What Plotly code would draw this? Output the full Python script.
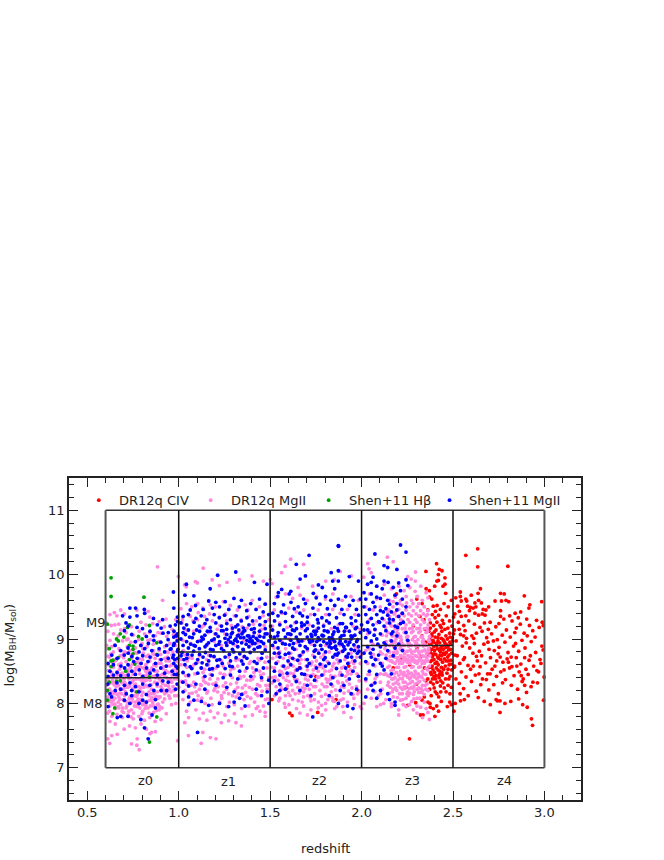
import plotly.graph_objects as go

# values, as alternating pairs: redshift*1000, logM*100
civ_raw = [
2635,1040,2570,1030,2635,1012,2800,1013,2410,1017,2425,1008,2440,1006,2420,1000,2456,995,2420,991,2456,985,2445,982,2400,982,
2650,978,2540,973,2637,971,2600,968,2760,971,2780,970,2890,967,2460,971,2515,964,2540,966,2570,962,2545,959,2575,959,2640,960,
2655,956,2620,956,2730,959,2765,959,2790,960,2805,958,2985,958,2920,953,2915,948,2695,950,2525,951,2580,951,2595,949,2610,948,
2625,950,2665,946,2680,945,2760,944,2870,942,2840,940,2535,943,2590,944,2620,940,2640,937,2660,939,2675,937,2545,935,2570,936,
2510,939,2760,935,2810,936,2778,931,2823,928,2857,933,2903,931,2957,929,2988,926,2703,926,2529,926,2559,921,2586,928,2617,923,
2648,918,2672,925,2693,915,2734,919,2751,924,2792,914,2846,917,2868,923,2889,909,2918,921,2936,913,2971,918,2994,921,2508,914,
2541,907,2566,913,2603,905,2628,909,2659,912,2684,902,2711,908,2742,899,2769,906,2813,903,2838,910,2877,898,2906,905,2928,896,
2949,903,2986,889,2517,897,2551,889,2574,901,2591,886,2617,893,2644,881,2669,892,2697,884,2721,897,2752,887,2784,895,2801,879,
2831,889,2859,881,2894,886,2923,874,2952,879,2976,868,2993,883,2523,874,2537,862,2563,871,2582,859,2609,878,2633,866,2656,874,
2678,863,2705,871,2729,858,2747,877,2773,864,2796,869,2822,857,2846,871,2871,861,2899,853,2916,867,2941,858,2968,849,2981,862,
2509,858,2546,849,2571,841,2596,853,2622,844,2648,857,2661,838,2689,846,2714,853,2738,842,2761,849,2787,837,2809,855,2834,843,
2862,849,2884,838,2911,845,2937,833,2959,851,2998,841,2534,831,2558,823,2601,834,2627,819,2652,829,2682,837,2696,821,2723,829,
2748,815,2771,832,2819,828,2853,822,2878,834,2902,817,2927,826,2962,832,2539,815,2583,812,2638,809,2671,803,2704,798,2736,806,
2757,804,2743,804,2784,800,2816,803,2859,807,2906,794,2881,798,2757,786,2929,776,2935,766,2995,805,2505,788,2541,804,2562,806,
2503,908,2512,875,2507,856,2516,838,2512,800,2534,915,2558,905,2572,894,2613,901,2628,873,2691,895,2726,882,2758,872,2803,864,
2842,893,2873,843,2892,871,2557,868,2611,858,2642,846,2703,846,2739,866,2779,852,2818,872,2849,858,2892,828,
# dense part next to the MgII limit
2371,975,2384,962,2392,951,2404,943,2413,952,2431,946,2451,955,2474,950,2491,960,2362,945,2387,938,2402,933,2421,937,2442,929,
2463,936,2481,928,2503,934,2376,925,2394,921,2412,926,2435,918,2448,924,2472,917,2494,920,2368,912,2385,908,2407,914,2423,907,
2439,912,2461,905,2482,909,2496,902,2373,902,2391,898,2403,903,2418,897,2436,901,2452,896,2469,900,2483,895,2497,897,2379,892,
2394,895,2411,890,2427,894,2441,889,2457,893,2473,888,2486,892,2371,885,2383,884,2399,882,2414,885,2432,880,2447,884,2463,879,
2476,883,2492,878,2367,875,2388,873,2406,876,2421,870,2438,874,2453,869,2471,872,2488,867,2377,865,2402,862,2419,860,2443,864,
2458,858,2479,860,2369,856,2391,852,2409,855,2428,850,2449,853,2467,847,2493,852,2382,845,2397,842,2424,840,2441,844,2362,838,
2459,838,2484,842,2392,830,2413,833,2431,827,2452,824,2473,828,2491,825,2372,822,2381,812,2403,818,2422,810,2374,800,2376,794,
2392,792,2411,796,2436,803,2469,795,2482,802,2491,798,2421,788,2322,782,2336,782,2401,780,2251,797,2296,801,2331,805,2343,810,
2363,802,2262,745,2352,1005,2412,990,2353,978,2372,965,2331,955,2302,962,2319,935,2283,920,2331,905,2304,885,2322,872,2344,855,
2352,835,2301,830,2263,860,2222,870,2173,855,2191,970,2243,825,2341,930,2347,915,2351,895,2383,877,2396,868,2416,872,2437,856,
2455,876,2475,866,2395,888,2427,882,2466,891,2385,905,2417,902,2446,899,2372,892,2386,858,2404,838,2378,848,2426,845,2376,917,
2398,911,2429,921,2456,915,2484,903,2378,897,2409,893,2433,886,2461,887,2488,884,2375,880,2396,877,2429,875,2448,878,2478,875,
2385,867,2411,864,2433,868,2463,866,2489,861,2381,856,2399,848,2418,852,2439,848,2473,853,2388,838,2408,843,2433,835,2477,838,
2397,824,2444,832,2412,815,2462,818,2378,833,2433,818,2483,815,
# stray ones under the MgII cloud
1607,785,1620,781,1760,786,1860,806,1510,806,1750,842,1590,823,1985,819,1930,858,1660,855,
]

mgii_raw = [
# z0
884,1012,998,997,683,945,648,941,624,938,662,936,703,939,771,945,833,943,842,934,912,960,931,931,603,925,631,921,672,923,704,916,
742,919,793,926,821,922,858,924,893,927,922,919,964,915,983,930,612,912,644,908,683,914,713,910,751,906,784,912,813,908,841,910,
872,905,902,909,934,904,971,907,993,900,624,898,651,922,693,897,723,900,762,895,793,890,832,898,861,892,891,896,923,888,952,893,
983,890,613,885,642,880,673,885,703,880,733,882,771,878,804,885,834,875,862,882,901,876,934,880,963,875,992,880,622,872,654,868,
681,874,712,865,742,870,773,864,803,868,842,866,871,870,903,862,931,866,963,860,994,865,615,860,643,856,672,860,704,855,733,858,
762,852,792,856,821,850,853,855,883,850,912,854,942,848,973,852,632,848,664,844,691,847,722,842,751,845,783,838,812,843,843,836,
874,840,903,835,934,840,962,833,992,838,614,836,642,832,671,828,704,833,732,827,764,830,793,824,823,828,851,822,882,827,913,822,
944,827,973,820,1000,825,622,822,654,818,683,822,713,815,743,820,773,813,804,817,834,812,862,815,893,810,924,815,952,808,994,812,
613,810,642,805,673,810,704,804,732,808,762,802,793,806,821,800,853,804,883,798,913,802,961,798,984,800,624,796,653,792,682,798,
713,793,741,790,771,795,803,788,832,793,862,786,893,790,932,784,612,785,634,780,662,783,692,778,723,782,751,776,782,780,813,774,
842,778,871,772,903,775,624,772,653,768,702,760,731,765,763,762,794,768,823,760,851,755,843,753,872,756,634,750,664,752,623,738,
742,737,773,745,784,728,771,735,994,742,612,745,993,850,972,870,951,858,924,870,893,882,864,860,833,845,803,833,764,818,722,825,
681,836,643,842,663,814,704,812,743,802,782,820,823,836,883,832,921,844,964,844,903,820,842,805,803,798,753,785,691,788,863,796,
723,852,684,862,628,842,637,864,658,826,695,806,716,796,736,840,757,828,778,857,798,812,816,792,848,815,869,833,887,808,908,793,
928,828,946,812,969,826,988,841,606,818,618,831,642,815,669,802,689,832,709,818,729,807,749,823,769,838,789,802,809,825,829,843,
849,829,868,817,888,799,912,831,936,818,956,835,976,838,632,802,651,808,673,793,696,822,718,842,737,856,755,812,775,797,796,836,
818,851,837,818,856,842,876,858,896,843,917,857,938,872,959,849,981,858,613,873,634,888,657,867,678,882,699,871,719,888,741,874,
763,886,784,869,806,878,827,888,848,872,607,828,626,806,647,829,668,795,687,815,708,825,727,788,746,807,767,811,787,793,807,836,
826,803,845,796,866,808,884,818,903,826,923,807,941,838,958,818,978,812,621,788,641,799,676,806,698,786,718,802,739,779,758,796,
778,807,799,784,819,797,838,785,858,801,878,789,898,810,616,851,638,836,662,849,682,846,701,838,724,847,745,833,766,855,787,846,
808,855,827,848,846,851,869,850,889,862,909,845,933,858,955,838,979,845,997,857,606,890,629,877,650,891,669,905,697,876,716,899,
738,895,759,879,780,899,799,893,823,873,844,899,865,876,887,910,618,803,633,818,652,799,677,816,694,793,712,829,735,811,752,836,
772,803,791,819,811,801,832,826,852,809,877,811,896,795,918,818,949,822,628,832,659,838,679,823,706,843,729,838,758,848,783,826,
811,834,836,851,871,843,893,838,929,851,948,866,968,880,647,865,676,853,708,879,746,861,781,863,820,860,858,878,897,868,942,879,
# z1
1012,947,1041,981,1032,984,1102,987,1134,1010,1183,992,1091,989,1222,983,1264,988,1332,992,1401,998,1463,990,1501,992,1043,955,
1071,950,1104,955,1132,948,1173,953,1201,950,1244,958,1283,952,1321,945,1364,953,1402,960,1441,950,1473,955,1021,930,1063,935,
1102,930,1141,935,1184,928,1223,934,1262,928,1304,936,1341,930,1383,935,1424,928,1462,936,1493,930,1034,915,1082,912,1124,918,
1163,910,1211,915,1252,908,1293,915,1333,910,1374,917,1413,910,1452,915,1494,908,1023,898,1064,893,1112,898,1153,890,1194,896,
1233,890,1274,895,1312,890,1353,897,1394,890,1434,894,1473,888,1034,875,1073,870,1114,874,1153,868,1192,872,1234,866,1273,872,
1312,867,1354,872,1393,865,1434,870,1472,864,1013,860,1044,856,1083,860,1124,855,1163,860,1204,855,1243,858,1284,852,1323,858,
1364,850,1404,855,1443,850,1483,855,1022,848,1054,842,1093,846,1134,840,1173,845,1214,838,1253,844,1293,840,1334,842,1373,836,
1413,842,1454,836,1493,840,1014,834,1043,830,1082,833,1123,828,1164,830,1203,832,1243,827,1284,830,1323,825,1364,828,1403,822,
1444,827,1484,822,1034,820,1074,816,1113,822,1154,816,1193,820,1234,812,1273,815,1314,810,1353,815,1394,808,1433,812,1474,806,
1023,806,1064,802,1103,805,1144,800,1183,798,1224,802,1263,795,1304,798,1344,792,1383,796,1424,792,1463,796,1043,788,1094,790,
1134,785,1173,788,1214,785,1253,782,1304,784,1363,780,1403,782,1444,788,1473,786,1054,778,1113,776,1154,774,1194,778,1233,770,
1273,773,1053,750,1204,745,1343,765,1313,770,1132,755,1123,738,1173,747,1033,770,1433,795,1473,780,1026,882,1057,871,1088,846,
1119,829,1142,853,1171,838,1198,823,1227,847,1256,832,1281,846,1309,821,1337,839,1366,817,1393,836,1421,815,1448,844,1477,828,
1016,868,1038,843,1067,828,1095,818,1126,808,1148,832,1176,808,1216,826,1248,817,1277,802,1326,815,1357,806,1386,825,1415,802,
1456,819,1486,807,1018,925,1049,913,1078,928,1107,941,1137,921,1168,939,1196,908,1226,921,1257,939,1288,921,1317,905,1347,919,
1378,945,1408,923,1437,906,1466,921,1036,835,1058,815,1087,826,1106,812,1136,835,1158,819,1187,830,1213,818,1236,808,1262,822,
1294,812,1316,832,1348,824,1375,811,1404,838,1431,829,1463,846,1493,828,1047,866,1075,855,1105,864,1133,848,1163,875,1186,852,
1218,858,1247,845,1274,862,1302,854,1329,868,1356,842,1386,862,1411,848,1441,867,1482,872,
# z2
1511,986,1563,1003,1582,1013,1612,1024,1683,1016,1653,980,1732,982,1804,990,1851,992,1883,1005,1944,998,1533,965,1584,970,1623,963,
1664,968,1703,960,1754,966,1802,962,1843,970,1894,960,1942,966,1983,960,1523,945,1564,940,1602,948,1643,942,1684,945,1722,938,
1763,945,1804,938,1842,946,1883,940,1923,946,1964,938,1513,920,1552,925,1593,918,1634,925,1672,917,1713,922,1754,915,1793,922,
1834,916,1873,922,1914,914,1953,920,1992,915,1523,902,1564,896,1603,900,1644,894,1683,898,1724,892,1763,898,1804,890,1843,896,
1884,890,1923,896,1964,888,1522,886,1553,880,1584,885,1613,878,1642,884,1673,876,1704,882,1733,875,1762,882,1793,876,1824,880,
1853,874,1884,880,1913,872,1942,878,1973,872,2000,876,1514,870,1543,865,1572,870,1604,863,1633,868,1662,862,1693,868,1724,860,
1753,866,1784,860,1813,865,1842,858,1873,863,1904,857,1933,863,1962,856,1993,862,1523,855,1552,850,1583,854,1612,847,1643,853,
1672,846,1703,852,1734,845,1763,850,1792,845,1823,850,1854,842,1883,848,1912,842,1943,846,1982,842,1514,840,1543,836,1572,840,
1603,834,1634,838,1662,832,1693,838,1722,830,1753,835,1784,830,1813,833,1842,827,1873,832,1904,825,1933,830,1972,826,1533,826,
1563,822,1594,827,1623,820,1652,825,1683,818,1714,822,1743,815,1772,820,1803,814,1834,818,1863,812,1904,816,1953,814,1992,818,
1524,812,1553,808,1584,812,1623,806,1654,804,1683,810,1723,804,1764,802,1803,800,1843,804,1884,805,1923,802,1962,798,1603,798,
1644,792,1683,796,1723,790,1763,793,1804,790,1853,792,1704,782,1663,785,1784,782,1864,795,1903,786,1942,778,1583,794,1992,795,
2000,792,1537,873,1566,858,1596,843,1626,858,1657,874,1687,829,1716,843,1747,858,1777,872,1806,838,1836,852,1866,868,1896,832,
1926,846,1957,862,1987,835,1511,832,1541,818,1569,846,1601,817,1629,842,1658,816,1691,823,1719,809,1749,826,1781,811,1811,826,
1839,809,1869,834,1899,807,1929,819,1958,808,1975,846,1508,856,1539,877,1576,858,1607,872,1638,851,1669,868,1699,844,1729,864,
1759,841,1789,855,1819,836,1849,862,1879,844,1909,868,1939,852,1969,885,1528,841,1558,827,1587,836,1617,829,1648,837,1676,824,
1708,836,1737,826,1767,841,1797,826,1829,838,1858,821,1889,826,1919,835,1948,824,1979,815,1533,863,1561,849,1598,856,1627,846,
1668,854,1697,858,1736,852,1771,857,1801,850,1832,843,1861,855,1891,855,1921,850,1951,866,1547,804,1578,800,1609,812,1637,815,
1675,802,1706,812,1742,806,1781,797,1816,806,1851,803,1897,795,
# z3
2141,1027,2173,1020,2034,1017,2041,1009,2053,1003,2295,1004,2252,997,2294,990,2271,993,2012,996,2083,982,2124,985,2163,978,2204,982,
2233,975,2264,980,2293,974,2324,982,2353,972,2044,970,2083,962,2124,968,2153,960,2184,965,2213,960,2244,966,2273,960,2304,966,
2332,960,2363,964,2023,950,2064,945,2102,950,2143,942,2172,950,2203,946,2224,952,2243,945,2264,950,2283,944,2304,950,2323,944,
2343,950,2362,944,2043,930,2084,925,2122,930,2153,935,2174,928,2193,935,2214,930,2233,936,2254,930,2273,936,2294,930,2313,936,
2332,930,2353,936,2371,930,2163,920,2184,916,2203,922,2223,916,2243,922,2263,916,2283,922,2303,916,2323,922,2343,916,2364,922,
2033,908,2074,914,2113,906,2144,910,2173,905,2193,910,2214,904,2233,910,2253,904,2273,910,2294,904,2313,910,2333,904,2353,910,
2372,904,2054,895,2093,890,2134,896,2153,890,2174,896,2193,890,2213,896,2234,890,2253,896,2273,890,2293,896,2314,890,2333,896,
2353,890,2372,896,2023,882,2064,876,2103,880,2134,875,2153,880,2173,874,2194,880,2213,874,2233,880,2254,874,2273,880,2293,874,
2313,880,2334,874,2353,880,2373,874,2164,866,2183,862,2204,868,2223,862,2243,868,2263,862,2284,868,2303,862,2323,868,2343,862,
2363,866,2034,862,2073,858,2113,862,2143,856,2173,852,2193,856,2213,850,2233,856,2253,850,2273,856,2293,850,2313,856,2333,850,
2353,854,2043,845,2083,842,2123,845,2153,842,2183,840,2203,844,2223,838,2243,844,2263,838,2283,844,2303,838,2323,842,2343,836,
2023,835,2063,830,2103,833,2143,828,2173,830,2203,830,2233,826,2253,830,2273,825,2293,830,2313,824,2333,828,2033,822,2073,818,
2113,822,2153,816,2193,820,2223,815,2253,818,2283,814,2313,817,2343,814,2363,820,2053,808,2093,812,2133,806,2173,810,2213,805,
2243,808,2273,803,2303,808,2343,802,2013,800,2103,798,2163,795,2203,790,2243,795,2283,790,2353,792,2363,786,2303,796,2203,782,
2303,785,2333,778,2371,775,2167,905,2187,884,2206,903,2226,883,2246,903,2266,883,2286,903,2306,883,2326,903,2346,883,2367,885,
2157,873,2177,888,2197,871,2217,889,2237,871,2257,889,2277,871,2297,889,2317,871,2337,889,2357,871,2152,858,2182,872,2202,856,
2222,873,2242,857,2262,873,2282,857,2302,873,2322,857,2342,873,2362,852,2147,833,2178,846,2198,836,2218,846,2238,833,2258,846,
2278,834,2298,846,2318,834,2338,846,2358,830,2168,818,2188,832,2208,815,2228,833,2248,815,2268,832,2288,818,2308,832,2328,817,
2348,828,2158,922,2178,939,2198,915,2218,939,2238,917,2258,939,2278,917,2298,939,2318,917,2338,939,2358,917,2173,958,2208,955,
2246,956,2281,955,2313,955,2158,898,2188,900,2218,899,2248,899,2278,899,2308,899,2338,899,2368,899,2142,868,2132,846,2128,885,
2136,905,2148,880,2132,918,2149,945,2139,925,2112,877,2089,868,2062,892,2045,912,2156,866,2175,879,2194,866,2211,885,2229,868,
2251,881,2269,867,2291,881,2309,866,2331,881,2349,866,2367,881,2161,851,2191,848,2208,862,2232,848,2251,864,2272,847,2291,864,
2311,846,2331,862,2351,845,2371,858,2157,825,2186,824,2212,825,2236,823,2261,823,2281,823,2303,822,2326,823,2351,822,2163,908,
2182,895,2201,908,2221,893,2241,912,2261,893,2281,912,2301,893,2321,912,2341,893,2361,912,2144,843,2166,838,2196,809,2226,806,
2256,812,2286,807,2319,808,2163,800,2228,798,2262,798,2323,794,2183,941,2223,928,2263,926,2303,926,2343,926,2361,938,2103,846,
2072,870,2042,885,2105,815,2074,838,2036,845,2121,800,2083,795,2168,893,2192,878,2216,895,2236,877,2256,893,2276,877,2296,893,
2316,877,2336,893,2356,877,2171,864,2213,866,2233,866,2253,868,2273,866,2293,866,2313,866,2333,866,2353,866,2173,838,2211,839,
2231,843,2251,841,2271,841,2291,841,2311,841,2331,840,2173,822,2223,822,2243,826,2263,816,2286,826,2306,822,2332,820,
]

hbeta_raw = [
630,995,630,966,810,965,610,923,720,918,730,922,840,921,680,908,700,903,660,900,670,897,780,904,800,900,730,890,750,889,750,884,
620,885,880,894,750,877,880,876,670,871,640,867,630,866,730,868,760,861,630,857,710,850,840,841,680,835,620,833,660,834,610,820,
770,818,610,805,650,793,640,784,880,779,840,740,
]

shen_mgii_raw = [
# z0
971,973,733,948,764,948,812,946,814,940,973,948,772,936,733,934,693,936,862,932,993,934,912,930,712,925,724,920,994,927,982,922,
953,920,904,917,883,922,843,912,802,916,772,918,743,907,703,913,861,905,823,904,914,909,943,910,974,912,992,908,973,903,942,899,
902,895,864,898,834,893,793,890,763,896,723,886,991,897,972,890,934,890,893,885,853,882,814,885,783,880,724,878,683,882,652,890,
954,884,923,880,996,884,884,875,843,872,803,874,773,870,744,873,702,875,663,870,634,875,972,875,994,870,943,870,904,868,873,862,
832,865,794,862,754,865,723,860,684,858,643,860,613,862,973,862,992,855,932,858,902,855,863,852,824,855,784,852,743,850,704,855,
663,848,624,850,964,850,993,845,923,847,883,844,843,847,803,842,763,845,724,844,683,843,643,844,613,842,662,832,703,828,733,832,
764,826,803,830,842,828,882,830,943,833,913,835,991,830,983,822,653,820,683,822,713,815,743,820,783,818,823,814,864,820,904,820,
934,820,612,830,624,815,633,810,703,805,733,800,803,805,823,802,873,806,743,812,783,800,614,795,683,780,664,778,723,780,793,775,
813,762,854,782,873,793,833,745,985,905,975,893,993,881,968,871,985,858,992,845,988,905,979,868,958,885,976,845,
# z1
1042,985,1213,999,1172,978,1083,967,1034,968,1164,959,1203,957,1092,952,1312,1004,1414,988,1483,985,1302,963,1254,958,1223,950,1184,948,
1134,946,1063,945,1343,960,1394,955,1442,962,1473,954,1274,946,1331,950,1372,944,1423,946,1462,942,1024,935,1053,938,1094,932,1123,936,
1154,930,1194,938,1222,933,1251,937,1283,930,1314,936,1342,928,1373,933,1404,928,1443,933,1474,927,1492,938,1012,925,1043,922,1084,926,
1113,920,1144,924,1172,918,1203,925,1234,920,1263,924,1294,917,1323,922,1354,917,1384,922,1413,916,1444,922,1473,916,1502,920,1024,910,
1053,914,1082,908,1114,912,1143,906,1174,912,1203,908,1234,913,1263,907,1294,910,1323,905,1352,911,1384,905,1413,910,1444,904,1473,908,
1502,904,1012,900,1043,896,1074,902,1103,896,1134,900,1163,894,1194,900,1224,896,1253,901,1284,895,1313,900,1344,894,1373,898,1404,893,
1433,898,1464,893,1493,897,1024,890,1053,886,1084,890,1113,885,1144,888,1174,884,1203,890,1234,885,1263,890,1294,884,1323,888,1354,883,
1384,888,1413,884,1444,888,1473,883,1013,874,1044,870,1073,875,1104,868,1133,872,1164,866,1193,873,1224,868,1254,872,1283,866,1314,871,
1344,866,1373,870,1413,865,1453,870,1494,865,1034,860,1063,857,1094,862,1123,855,1154,860,1184,854,1213,858,1254,854,1293,857,1333,850,
1373,855,1424,852,1463,855,1024,848,1054,844,1104,847,1143,842,1183,844,1243,840,1283,844,1323,838,1394,842,1453,840,1492,836,1023,833,
1054,827,1094,830,1143,822,1204,828,1263,825,1303,818,1344,814,1424,822,1484,818,1024,818,1054,810,1083,805,1124,803,1164,797,1054,798,
1223,800,1303,802,1333,808,1453,812,1363,796,1103,755,1273,795,1493,800,1288,908,1312,919,1338,902,1361,913,1387,896,1407,904,1433,887,
1271,899,1297,893,1326,906,1352,884,1376,905,1398,915,1424,901,1442,912,1466,903,1246,882,1277,876,1301,880,1334,877,1359,873,1391,879,
1216,904,1243,913,1181,898,1153,891,1126,903,1098,914,1066,892,1037,907,1018,879,1048,876,1082,881,1114,876,1146,879,1174,874,1209,867,
1028,917,1059,903,1091,889,1122,897,1157,912,1188,883,1219,892,1262,915,1306,898,1346,908,1369,892,1402,897,1451,896,1483,908,1258,894,
1282,903,1321,896,1329,914,1356,902,1391,901,1417,893,1456,878,1029,868,1071,854,1128,863,1169,853,1238,862,1279,858,1352,861,1428,862,
# z2
1713,1030,1874,1044,1643,1016,1693,998,1664,993,1834,1003,1873,1006,1764,984,1842,990,1563,977,1545,972,1613,974,1542,966,1853,978,
1785,980,1736,971,1604,970,1683,962,1752,964,1803,966,1832,960,1873,962,1913,966,1954,960,1993,962,1523,955,1573,953,1614,957,1653,950,
1693,955,1734,948,1772,954,1813,947,1853,952,1892,946,1934,952,1972,946,1514,940,1543,936,1583,940,1623,935,1663,940,1704,934,1743,938,
1783,933,1823,938,1863,933,1904,938,1943,933,1984,937,1524,928,1553,922,1584,927,1613,920,1643,926,1673,920,1703,926,1734,920,1763,925,
1792,920,1823,925,1853,918,1883,924,1913,918,1944,924,1973,918,2000,922,1513,914,1544,910,1574,914,1604,908,1633,913,1664,908,1693,913,
1724,907,1753,912,1784,906,1813,912,1843,907,1873,912,1904,906,1933,912,1963,906,1993,910,1523,903,1553,898,1583,903,1613,898,1643,903,
1673,897,1703,903,1733,897,1763,902,1793,896,1823,902,1853,896,1883,902,1913,896,1943,900,1973,896,1513,890,1543,886,1583,892,1623,886,
1663,890,1703,885,1743,890,1783,884,1823,888,1863,884,1903,888,1943,884,1983,888,1523,878,1553,872,1583,876,1623,870,1663,874,1703,868,
1743,872,1793,868,1843,872,1883,866,1923,872,1963,866,1993,872,1533,862,1573,858,1613,860,1663,855,1703,858,1753,855,1803,858,1863,854,
1913,855,1953,850,1523,850,1553,844,1593,847,1633,842,1673,846,1723,842,1783,844,1843,840,1893,844,1933,838,1983,842,1523,835,1553,830,
1583,822,1643,834,1703,828,1743,836,1833,830,1903,828,1973,822,1943,815,1883,820,1823,812,1733,779,1553,820,1533,815,1663,820,1723,812,
1873,800,1923,796,1953,792,1739,912,1764,917,1792,905,1817,911,1844,899,1868,916,1891,905,1917,918,1942,905,1966,916,1613,907,1644,916,
1672,925,1703,916,1728,904,1755,896,1786,905,1811,893,1838,902,1858,889,1883,897,1908,884,1935,895,1961,882,1606,891,1632,884,1657,896,
1541,905,1568,893,1596,908,1627,893,1692,888,1717,895,1748,883,1776,890,1803,880,1829,893,1853,887,1872,878,1897,881,1928,877,1958,891,
1548,878,1602,878,1651,867,1681,880,1714,862,1773,861,1822,862,1856,876,1925,862,1977,878,1561,942,1632,947,1677,936,1759,930,1809,928,
1896,924,1968,928,1528,895,1598,866,1648,852,1688,845,1747,907,1771,899,1796,913,1826,897,1849,911,1878,893,1906,912,1926,891,1951,904,
1978,899,1622,914,1652,899,1688,922,1714,898,1741,881,1766,878,1801,871,1836,886,1866,875,1893,892,1916,873,1946,872,1986,881,
# z3
1873,1045,2213,1046,2073,1032,2243,1035,2123,1014,2143,1011,2193,1008,1933,997,1873,990,1983,990,2063,996,2053,988,2123,990,2145,988,
2203,987,2243,992,2253,983,2033,985,2083,982,2113,978,2173,980,2213,975,2013,972,2053,970,2083,965,2023,962,2063,957,2103,963,2143,960,
2183,968,2223,962,2153,954,2193,955,2243,950,2013,950,2043,946,2073,950,2103,944,2133,947,2163,942,2193,945,2223,940,2023,938,2053,932,
2083,938,2113,932,2143,937,2173,930,2203,935,2033,926,2063,922,2093,927,2123,920,2153,925,2183,920,2213,924,2013,914,2043,910,2073,915,
2103,908,2133,913,2163,908,2193,905,2243,910,2023,902,2053,897,2083,900,2123,894,2163,897,2203,892,2253,898,2033,888,2063,884,2103,888,
2143,882,2183,886,2223,882,2013,878,2053,872,2093,875,2133,870,2173,874,2023,865,2063,860,2103,862,2043,850,2083,845,2123,852,2163,846,
2023,838,2073,832,2103,820,2143,815,2023,810,2063,820,2153,806,2183,802,2183,797,2083,808,2053,828,2133,891,2171,911,2197,918,2228,926,
2152,931,2119,942,2098,926,2069,906,2033,914,2089,892,2048,878,2113,858,2076,868,
]

civ_z = [v / 1000 for v in civ_raw[0::2]]
civ_m = [v / 100 for v in civ_raw[1::2]]
mgii_z = [v / 1000 for v in mgii_raw[0::2]]
mgii_m = [v / 100 for v in mgii_raw[1::2]]
hbeta_z = [v / 1000 for v in hbeta_raw[0::2]]
hbeta_m = [v / 100 for v in hbeta_raw[1::2]]
shen_z = [v / 1000 for v in shen_mgii_raw[0::2]]
shen_m = [v / 100 for v in shen_mgii_raw[1::2]]

bin_edges = [0.6, 1.0, 1.5, 2.0, 2.5, 3.0]
bin_floor = 7
bin_top = 11
split_levels = [8.4, 8.8, 9.0, 8.9]
bin_labels = ["z0", "z1", "z2", "z3", "z4"]
bin_label_x = [0.82, 1.27, 1.77, 2.28, 2.78]
bin_label_y = [6.81, 6.78, 6.81, 6.81, 6.81]

ink = "#222222"
font = "DejaVu Sans"

fig = go.Figure()

series = [
    ("DR12q CIV", civ_z, civ_m, "#ff0000"),
    ("DR12q MgII", mgii_z, mgii_m, "#ff88dd"),
    ("Shen+11 Hβ", hbeta_z, hbeta_m, "#00a000"),
    ("Shen+11 MgII", shen_z, shen_m, "#0000ff"),
]
for name, z, m, col in series:
    fig.add_trace(go.Scatter(x=z, y=m, mode="markers", name=name, showlegend=False,
                             marker=dict(color=col, size=3.8, line=dict(width=0))))

# legend row placed by hand, the built-in one spaces its entries differently
key_x = [0.563, 1.175, 1.82, 2.481]
key_text_x = [0.662, 1.274, 1.918, 2.574]
key_y = 11.156
fig.add_trace(go.Scatter(x=key_x, y=[key_y] * 4, mode="markers", showlegend=False,
                         marker=dict(color=[s[3] for s in series], size=3.8, line=dict(width=0))))
for s, tx in zip(series, key_text_x):
    fig.add_annotation(x=tx, y=key_y, text=s[0], xanchor="left", showarrow=False,
                       font=dict(family=font, size=13, color=ink))

# bin boxes
fig.add_shape(type="line", x0=bin_edges[0], x1=bin_edges[-1], y0=bin_top, y1=bin_top, line=dict(color="#333333", width=1.5))
fig.add_shape(type="line", x0=bin_edges[0], x1=bin_edges[-1], y0=bin_floor, y1=bin_floor, line=dict(color="#333333", width=1.5))
for e in bin_edges:
    outer = e in (bin_edges[0], bin_edges[-1])
    fig.add_shape(type="line", x0=e, x1=e, y0=bin_floor, y1=bin_top,
                  line=dict(color="#555555" if outer else "#111111", width=2 if outer else 1.5))
for i, lev in enumerate(split_levels):
    fig.add_shape(type="line", x0=bin_edges[i], x1=bin_edges[i + 1], y0=lev, y1=lev,
                  line=dict(color="#222222", width=1.5))

for lab, lx, ly in zip(bin_labels, bin_label_x, bin_label_y):
    fig.add_annotation(x=lx, y=ly, text=lab, showarrow=False, font=dict(family=font, size=13, color=ink))
fig.add_annotation(x=0.545, y=9.25, text="M9", showarrow=False, font=dict(family=font, size=13, color=ink))
fig.add_annotation(x=0.53, y=8.0, text="M8", showarrow=False, font=dict(family=font, size=13, color=ink))

# axis titles as annotations, a title on the axis pushes the margins around
fig.add_annotation(xref="paper", yref="paper", x=0.5, y=-0.152, xanchor="center", yanchor="middle",
                   text="redshift", showarrow=False, font=dict(family=font, size=13, color=ink))
fig.add_annotation(xref="paper", yref="paper", x=-0.115, y=0.48, xanchor="center", yanchor="middle",
                   text="log(M<sub>BH</sub>/M<sub>sol</sub>)",
                   textangle=-90, showarrow=False, font=dict(family=font, size=13, color=ink))

axis_common = dict(showgrid=False, zeroline=False, showline=True, mirror="allticks", linecolor=ink, linewidth=1.5,
                   ticks="inside", ticklen=9, tickwidth=1, tickcolor=ink, automargin=False,
                   tickfont=dict(family=font, size=13, color=ink))

fig.update_layout(
    width=664, height=860,
    margin=dict(l=69, r=83, t=478, b=60),
    paper_bgcolor="white", plot_bgcolor="white",
    showlegend=False,
    xaxis=dict(range=[0.4, 3.2], dtick=0.5, tick0=0.5, tickformat=".1f",
               minor=dict(dtick=0.1, ticks="inside", ticklen=5, tickcolor=ink, tickwidth=1),
               **axis_common),
    yaxis=dict(range=[6.5, 11.5], dtick=1, tick0=7,
               minor=dict(dtick=0.2, ticks="inside", ticklen=5, tickcolor=ink, tickwidth=1),
               **axis_common),
)

# drop the default 8px body margin so the figure fills the window
fig.write_html("out.html", config={"displayModeBar": False}, post_script="document.body.style.margin='0';")
